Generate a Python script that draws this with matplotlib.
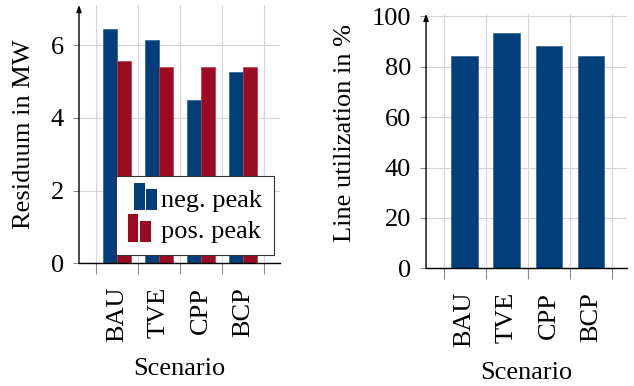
import matplotlib.pyplot as plt
import numpy as np
from matplotlib.legend_handler import HandlerBase
from matplotlib.patches import Rectangle

plt.rcParams['font.family'] = ['Liberation Serif', 'DejaVu Serif']
plt.rcParams['mathtext.fontset'] = 'stix'

# data
scenarios = ['BAU', 'TVE', 'CPP', 'BCP']
neg_peak = [6.45, 6.15, 4.5, 5.26]
pos_peak = [5.56, 5.39, 5.39, 5.39]
line_util = [84.1, 93.4, 88.4, 84.1]

blue = '#023f7a'
red = '#9a0a20'
grid_col = '#d4d4d4'
tick_col = '#8a8a8a'
fs = 19


class TwoBarHandler(HandlerBase):
    # pgfplots-style ybar legend image: two small bars
    def __init__(self, shift=0.0):
        super().__init__()
        self.shift = shift

    def create_artists(self, legend, orig_handle, xdescent, ydescent, width, height, fontsize, trans):
        c = orig_handle.patches[0].get_facecolor()
        w = width * 0.36
        x0 = -xdescent + self.shift * width
        r1 = Rectangle((x0, -ydescent - 0.2 * height), w, height * 1.5, facecolor=c,
                       edgecolor='none', transform=trans)
        r2 = Rectangle((x0 + w * 1.12, -ydescent - 0.2 * height), w, height * 1.15, facecolor=c,
                       edgecolor='none', transform=trans)
        return [r1, r2]


def style_axes(ax, ytop):
    x = np.arange(len(scenarios))
    ax.set_xticks(x)
    ax.set_xticklabels(scenarios, rotation=90, fontsize=fs)
    ax.tick_params(axis='x', which='major', length=0, pad=17)
    ax.set_xticks(np.arange(len(scenarios) + 1) - 0.5, minor=True)
    ax.tick_params(axis='x', which='minor', length=8, width=0.8, color=tick_col, direction='out')
    ax.tick_params(axis='y', which='major', length=4.3, width=0.8, color=tick_col, labelsize=fs, pad=6.5)
    ax.grid(axis='x', which='minor', color=grid_col, linewidth=0.8)
    ax.grid(axis='y', which='major', color=grid_col, linewidth=0.8)
    ax.set_axisbelow(True)
    for s in ['top', 'right', 'left']:
        ax.spines[s].set_visible(False)
    ax.spines['bottom'].set_linewidth(1.0)
    xmin = ax.get_xlim()[0]
    ax.annotate('', xy=(xmin, ytop), xytext=(xmin, 0), xycoords='data',
                arrowprops=dict(arrowstyle='-|>,head_length=0.4,head_width=0.15',
                                color='black', lw=1.0, shrinkA=0, shrinkB=0),
                annotation_clip=False)
    ax.set_xlabel('Scenario', fontsize=fs, va='center')


fig = plt.figure(figsize=(6.34, 3.86), dpi=100)

# left: residuum
ax1 = fig.add_axes([0.1246, 0.318, 0.317, 0.669])
x = np.arange(len(scenarios))
bw = 0.32
b1 = ax1.bar(x - bw / 2 - 0.01, neg_peak, bw, color=blue, edgecolor='#2a5f95', linewidth=0.5, label='neg. peak')
b2 = ax1.bar(x + bw / 2 + 0.01, pos_peak, bw, color=red, edgecolor='#b23a4a', linewidth=0.5, label='pos. peak')
ax1.set_xlim(-0.905, 3.88)
ax1.set_ylim(0, 7.1)
ax1.set_yticks([0, 2, 4, 6])
style_axes(ax1, 7.1)
ax1.set_ylabel('Residuum in MW', fontsize=fs, va='center')
ax1.yaxis.set_label_coords(-0.274, 0.5)
ax1.xaxis.set_label_coords(0.5, -0.409)
leg = ax1.legend([b1, b2], ['neg. peak', 'pos. peak'], loc='lower right', bbox_to_anchor=(0.97, 0.032),
                 fontsize=fs, handler_map={b1: TwoBarHandler(0.2), b2: TwoBarHandler(0.0)},
                 fancybox=False, framealpha=1, edgecolor='#333333', handlelength=1.15,
                 handletextpad=0.12, borderpad=0.45, labelspacing=0.3, borderaxespad=0)
leg.get_frame().set_linewidth(0.8)

# right: line utilization
ax2 = fig.add_axes([0.672, 0.305, 0.317, 0.659])
ax2.bar(x, line_util, 0.63, color=blue, edgecolor='#2a5f95', linewidth=0.5)
ax2.set_xlim(-0.917, 3.86)
ax2.set_ylim(0, 101)
ax2.set_yticks([0, 20, 40, 60, 80, 100])
style_axes(ax2, 101)
ax2.set_ylabel('Line utilization in %', fontsize=fs, va='center')
ax2.yaxis.set_label_coords(-0.404, 0.53)
ax2.xaxis.set_label_coords(0.5, -0.412)

fig.savefig('out.png', dpi=100)
